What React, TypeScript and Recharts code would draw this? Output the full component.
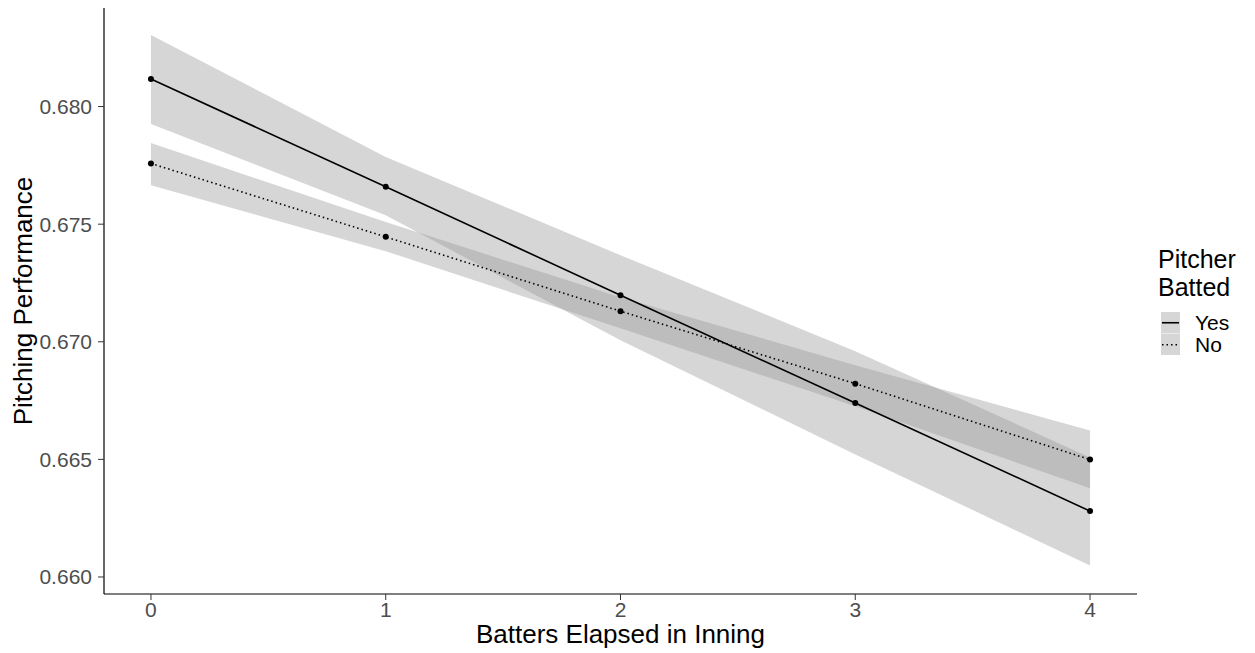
import React from "react";
import { ComposedChart, Area, Line, XAxis, YAxis, Legend, Label } from "recharts";

const battersElapsed = [0, 1, 2, 3, 4];
const xTicks = [0, 1, 2, 3, 4];
const yTicks = [0.66, 0.665, 0.67, 0.675, 0.68];

// pitcher batted = Yes
const yesMean = [0.68117, 0.67659, 0.67198, 0.6674, 0.6628];
const yesLower = [0.67926, 0.67538, 0.67006, 0.66521, 0.66049];
const yesUpper = [0.68304, 0.67786, 0.67368, 0.6696, 0.66508];

// pitcher batted = No
const noMean = [0.67758, 0.67446, 0.6713, 0.66822, 0.66499];
const noLower = [0.67666, 0.67385, 0.67057, 0.66726, 0.66377];
const noUpper = [0.67845, 0.67509, 0.67189, 0.669, 0.66623];

const groups = ["Yes", "No"];
const legendTitle = ["Pitcher", "Batted"];

const FONT = "'Liberation Sans', Arial, Helvetica, sans-serif";
const BAND = "#999999";

const chartData = battersElapsed.map((b, i) => ({
  batters: b,
  yes: yesMean[i],
  no: noMean[i],
  yesBand: [yesLower[i], yesUpper[i]],
  noBand: [noLower[i], noUpper[i]],
}));

const LegendBox = () => (
  <div style={{ fontFamily: FONT, color: "#000" }}>
    {legendTitle.map((t) => (
      <div key={t} style={{ fontSize: 25, lineHeight: "28px", height: 28 }}>
        {t}
      </div>
    ))}
    <div style={{ marginTop: 11, marginLeft: 3 }}>
      {groups.map((g, i) => (
        <div key={g} style={{ display: "flex", alignItems: "center", height: 21.5 }}>
          <svg width={19} height={21.5}>
            <rect x={0} y={0} width={19} height={21.5} fill={BAND} fillOpacity={0.4} />
            <line
              x1={1}
              x2={18}
              y1={10.75}
              y2={10.75}
              stroke="#000"
              strokeWidth={1.6}
              strokeDasharray={i === 1 ? "1.5 3" : undefined}
            />
          </svg>
          <span style={{ fontSize: 21, marginLeft: 15, lineHeight: "21px" }}>{g}</span>
        </div>
      ))}
    </div>
  </div>
);

export default function App() {
  return (
    <ComposedChart
      width={1239}
      height={645}
      data={chartData}
      margin={{ top: 0, right: 110, bottom: 0, left: 0 }}
      style={{ fontFamily: FONT }}
    >
      <XAxis
        type="number"
        dataKey="batters"
        domain={[-0.2, 4.2]}
        ticks={xTicks}
        allowDataOverflow
        height={59}
        tickSize={6}
        tickMargin={2}
        axisLine={{ stroke: "#000", strokeWidth: 1.2 }}
        tickLine={{ stroke: "#333" }}
        tick={{ fill: "#4d4d4d", fontSize: 21 }}
      >
        <Label
          value="Batters Elapsed in Inning"
          position="insideBottom"
          offset={10}
          style={{ fill: "#000", fontSize: 26 }}
        />
      </XAxis>
      <YAxis
        type="number"
        domain={[0.659276, 0.684191]}
        ticks={yTicks}
        allowDataOverflow
        width={96}
        tickSize={6}
        tickMargin={6}
        tickFormatter={(v: number) => v.toFixed(3)}
        axisLine={{ stroke: "#000", strokeWidth: 1.2 }}
        tickLine={{ stroke: "#333" }}
        tick={{ fill: "#4d4d4d", fontSize: 21 }}
      >
        <Label
          value="Pitching Performance"
          angle={-90}
          position="insideLeft"
          offset={15}
          style={{ fill: "#000", fontSize: 26, textAnchor: "middle" }}
        />
      </YAxis>
      <Area
        type="linear"
        dataKey="yesBand"
        fill={BAND}
        fillOpacity={0.4}
        stroke="none"
        isAnimationActive={false}
        activeDot={false}
        legendType="none"
      />
      <Area
        type="linear"
        dataKey="noBand"
        fill={BAND}
        fillOpacity={0.4}
        stroke="none"
        isAnimationActive={false}
        activeDot={false}
        legendType="none"
      />
      <Line
        type="linear"
        dataKey="yes"
        stroke="#000"
        strokeWidth={1.6}
        dot={{ r: 3, fill: "#000", stroke: "none" }}
        activeDot={false}
        isAnimationActive={false}
      />
      <Line
        type="linear"
        dataKey="no"
        stroke="#000"
        strokeWidth={1.6}
        strokeDasharray="1.5 3"
        dot={{ r: 3, fill: "#000", stroke: "none" }}
        activeDot={false}
        isAnimationActive={false}
      />
      <Legend
        layout="vertical"
        align="center"
        verticalAlign="middle"
        content={() => <LegendBox />}
        wrapperStyle={{ left: 1150, top: 237, width: 100 }}
      />
    </ComposedChart>
  );
}
